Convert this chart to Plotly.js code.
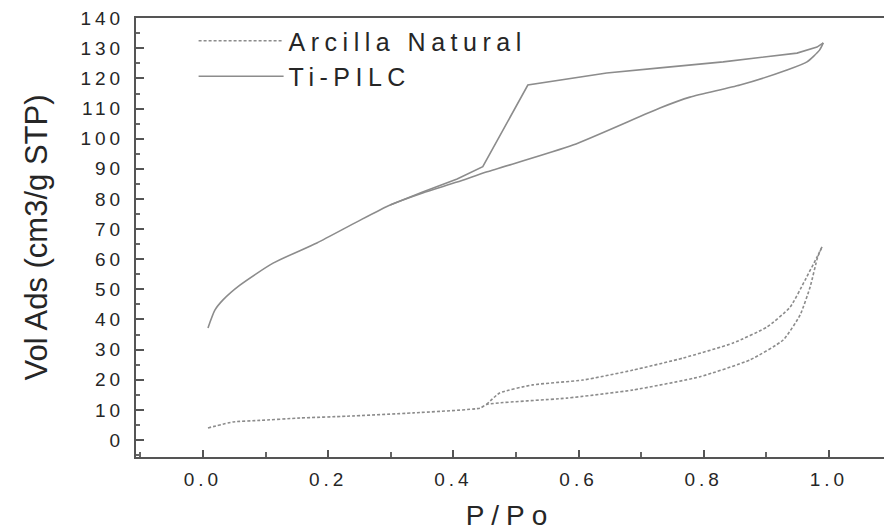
<!DOCTYPE html>
<html>
<head>
<meta charset="utf-8">
<script src="https://cdn.plot.ly/plotly-3.0.1.min.js"></script>
<style>
  html, body { margin: 0; padding: 0; background: #fff; }
  #chart { width: 884px; height: 531px; }
  .legendtext { letter-spacing: 5.5px; }
  .g-xtitle text { letter-spacing: 7px; }
  #chart svg .xtick text, #chart svg .ytick text { letter-spacing: 4px; }
</style>
</head>
<body>
<div id="chart"></div>
<script>
// Ti-PILC adsorption branch
const tiAdsX = [0.008, 0.019, 0.032, 0.059, 0.112, 0.182, 0.246, 0.299, 0.351, 0.406, 0.454, 0.591, 0.730, 0.778, 0.858, 0.933, 0.965, 0.985, 0.991];
const tiAdsY = [37.2, 43.1, 46.5, 51.4, 58.7, 65.4, 72.4, 78.0, 82.0, 85.6, 89.0, 97.9, 110.2, 113.8, 117.8, 122.8, 125.5, 129.4, 131.8];
// Ti-PILC desorption branch
const tiDesX = [0.991, 0.981, 0.949, 0.831, 0.730, 0.645, 0.519, 0.447, 0.406, 0.379, 0.351, 0.299];
const tiDesY = [131.8, 130.4, 128.4, 125.5, 123.5, 121.8, 117.8, 90.7, 86.6, 84.6, 82.3, 78.0];
// Arcilla Natural adsorption branch
const arAdsX = [0.008, 0.048, 0.091, 0.155, 0.230, 0.336, 0.443, 0.453, 0.581, 0.687, 0.794, 0.874, 0.927, 0.954, 0.970, 0.982, 0.989];
const arAdsY = [4.0, 6.0, 6.5, 7.3, 7.9, 9.0, 10.6, 11.8, 13.9, 16.6, 21.0, 26.6, 33.2, 41.5, 50.8, 60.7, 64.1];
// Arcilla Natural desorption branch
const arDesX = [0.989, 0.981, 0.962, 0.938, 0.901, 0.847, 0.767, 0.687, 0.607, 0.527, 0.474, 0.453];
const arDesY = [64.1, 60.7, 53.1, 44.1, 37.5, 32.2, 27.2, 23.2, 19.9, 18.3, 15.6, 11.8];

const yTicks = [0, 10, 20, 30, 40, 50, 60, 70, 80, 90, 100, 110, 120, 130, 140];
const xTicks = [0.0, 0.2, 0.4, 0.6, 0.8, 1.0];
const xTickText = ['0.0', '0.2', '0.4', '0.6', '0.8', '1.0'];

const seriesNames = ['Arcilla Natural', 'Ti-PILC'];
const lineColor = '#8c8c8c';

const traces = [
  { x: arAdsX, y: arAdsY, mode: 'lines', name: seriesNames[0], legendgroup: 'a',
    line: { color: lineColor, width: 1.6, dash: '3px,2px', shape: 'spline', smoothing: 0.5 } },
  { x: arDesX, y: arDesY, mode: 'lines', name: seriesNames[0], legendgroup: 'a', showlegend: false,
    line: { color: lineColor, width: 1.6, dash: '3px,2px', shape: 'spline', smoothing: 0.5 } },
  { x: tiAdsX, y: tiAdsY, mode: 'lines', name: seriesNames[1], legendgroup: 'b',
    line: { color: lineColor, width: 1.6, shape: 'spline', smoothing: 0.6 } },
  { x: tiDesX, y: tiDesY, mode: 'lines', name: seriesNames[1], legendgroup: 'b', showlegend: false,
    line: { color: lineColor, width: 1.6 } }
];

const fontFam = '"Liberation Sans", Arial, sans-serif';
const txt = '#262626';
const layout = {
  width: 884, height: 531,
  margin: { l: 136, r: 0, t: 18, b: 74 },
  paper_bgcolor: '#fff', plot_bgcolor: '#fff',
  font: { family: fontFam, color: txt },
  showlegend: true,
  legend: {
    x: 0.077, y: 1.0, xanchor: 'left', yanchor: 'top',
    bgcolor: 'rgba(0,0,0,0)', borderwidth: 0,
    font: { size: 25, family: fontFam, color: txt },
    itemwidth: 85, traceorder: 'grouped', tracegroupgap: 0
  },
  xaxis: {
    range: [-0.107, 1.088],
    tickvals: xTicks, ticktext: xTickText,
    ticks: 'inside', ticklen: 7, tickwidth: 2, tickcolor: '#555',
    minor: { dtick: 0.1, ticks: 'inside', ticklen: 5, tickwidth: 2, tickcolor: '#666' },
    showline: true, linewidth: 2, linecolor: '#555', mirror: true,
    showgrid: false, zeroline: false,
    tickfont: { size: 19, family: fontFam, color: txt },
    ticklabelstandoff: 4,
    title: { text: 'P/Po', font: { size: 28, family: fontFam, color: txt }, standoff: 19 }
  },
  yaxis: {
    range: [-5.64, 140.06],
    tickvals: yTicks,
    ticks: 'inside', ticklen: 8, tickwidth: 2, tickcolor: '#555',
    minor: { dtick: 5, ticks: 'inside', ticklen: 4, tickwidth: 2, tickcolor: '#666' },
    showline: true, linewidth: 2, linecolor: '#555',
    showgrid: false, zeroline: false,
    tickfont: { size: 19, family: fontFam, color: txt },
    ticklabelstandoff: 6,
    title: { text: 'Vol Ads (cm3/g STP)', font: { size: 31, family: fontFam, color: txt }, standoff: 36 }
  }
};

Plotly.newPlot('chart', traces, layout, { displayModeBar: false, staticPlot: true }).then(function (gd) {
  gd.querySelectorAll('.xtick text, .ytick text').forEach(function (t) {
    t.setAttribute('letter-spacing', '4px');
    t.style.setProperty('letter-spacing', '4px', 'important');
  });
});
</script>
</body>
</html>
